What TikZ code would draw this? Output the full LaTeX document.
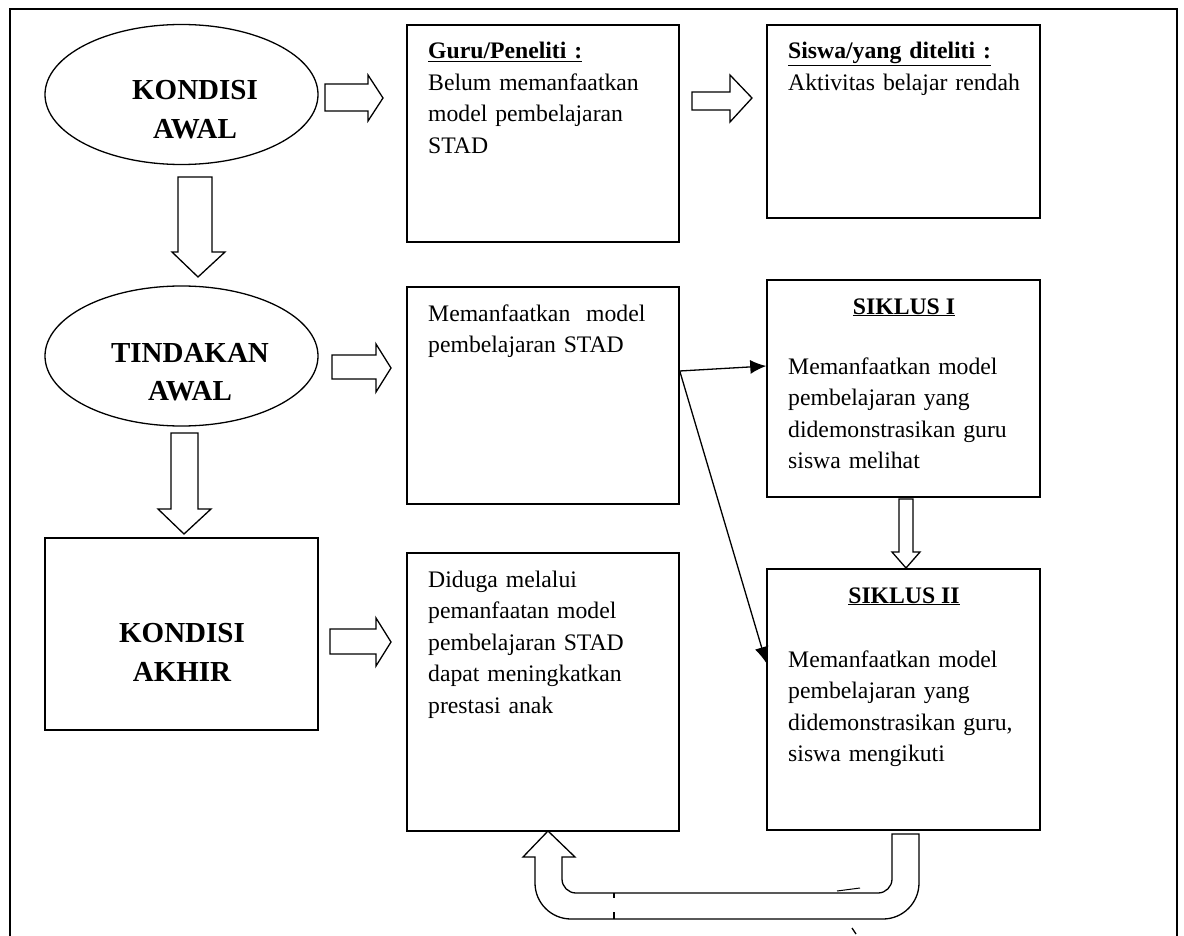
\documentclass[tikz,border=0pt]{standalone}
\usepackage{fontspec}
\setmainfont{Liberation Serif}
\usetikzlibrary{arrows.meta}
\usetikzlibrary{shapes.geometric}

\tikzset{
  box/.style={draw, line width=1.5pt, rectangle, inner sep=0pt},
  oval/.style={draw, line width=1.3pt, ellipse, inner sep=0pt, minimum width=273pt, minimum height=140pt},
  body/.style={anchor=base west, inner sep=0pt, text width=250pt, align=left, font=\fontsize{23.7}{31.5}\selectfont},
  title/.style={anchor=base, inner sep=0pt, font=\fontsize{23.7}{31.5}\selectfont\bfseries},
  heading/.style={anchor=base, inner sep=0pt, text width=220pt, align=center, font=\fontsize{29}{39}\selectfont\bfseries},
  hollow/.style={draw, line width=1.3pt, fill=white},
  pointer/.style={line width=1.3pt, -{Latex[length=16pt, width=14pt]}}
}

\begin{document}
\begin{tikzpicture}[x=1pt, y=-1pt]
    \useasboundingbox (0, 0) rectangle (1184, 936);

    % outer frame
    \draw [line width=1.5pt] (10, 960) -- (10, 9) -- (1177, 9) -- (1177, 960);

    % left column
    \node [oval] (kawal) at (181.5, 94.5) {};
    \node [heading] (kawallabel) at (195, 100) {KONDISI\\AWAL};
    \node [oval] (tawal) at (181.5, 356) {};
    \node [heading] (tawallabel) at (190, 362) {TINDAKAN\\AWAL};
    \node [box, minimum width=273pt, minimum height=192pt] (kakhir) at (181.5, 634) {};
    \node [heading] (kakhirlabel) at (182, 642) {KONDISI\\AKHIR};

    % middle column
    \node [box, minimum width=272pt, minimum height=217pt] (guru) at (543, 133.5) {};
    \node [body] (gurutext) at (428, 59) {\underline{\textbf{Guru/Peneliti :}}\\Belum memanfaatkan\\model pembelajaran\\STAD};
    \node [box, minimum width=272pt, minimum height=217pt] (manf) at (543, 395.5) {};
    \node [body] (manftext) at (428, 321) {Memanfaatkan\ \ model\\pembelajaran STAD};
    \node [box, minimum width=272pt, minimum height=278pt] (duga) at (543, 692) {};
    \node [body] (dugatext) at (428, 587) {Diduga melalui\\pemanfaatan model\\pembelajaran STAD\\dapat meningkatkan\\prestasi anak};

    % right column
    \node [box, minimum width=273pt, minimum height=193pt] (siswa) at (903.5, 121.5) {};
    \node [body] (siswatext) at (788, 59) {\underline{\textbf{Siswa/yang diteliti :}}\\Aktivitas belajar rendah};
    \node [box, minimum width=273pt, minimum height=217pt] (siklusone) at (903.5, 388.5) {};
    \node [title] (siklusonetitle) at (904, 314) {\underline{SIKLUS I}};
    \node [body] (siklusonetext) at (788, 374) {Memanfaatkan model\\pembelajaran yang\\didemonstrasikan guru\\siswa melihat};
    \node [box, minimum width=273pt, minimum height=261pt] (siklustwo) at (903.5, 699.5) {};
    \node [title] (siklustwotitle) at (904, 603) {\underline{SIKLUS II}};
    \node [body] (siklustwotext) at (788, 667) {Memanfaatkan model\\pembelajaran yang\\didemonstrasikan guru,\\siswa mengikuti};

    % hollow arrows
    \draw [hollow] (325, 84) -- (368, 84) -- (368, 75) -- (383, 98) -- (368, 121) -- (368, 111) -- (325, 111) -- cycle;
    \draw [hollow] (692, 92) -- (730, 92) -- (730, 75) -- (752, 98) -- (730, 122) -- (730, 110) -- (692, 110) -- cycle;
    \draw [hollow] (332, 355) -- (376, 355) -- (376, 344) -- (391, 368) -- (376, 392) -- (376, 379) -- (332, 379) -- cycle;
    \draw [hollow] (330, 629) -- (376, 629) -- (376, 618) -- (391, 642) -- (376, 666) -- (376, 654) -- (330, 654) -- cycle;
    \draw [hollow] (178, 177) -- (212, 177) -- (212, 252) -- (225, 252) -- (198, 277) -- (172, 252) -- (178, 252) -- cycle;
    \draw [hollow] (171, 433) -- (198, 433) -- (198, 509) -- (211, 509) -- (184, 534) -- (158, 509) -- (171, 509) -- cycle;
    \draw [hollow] (899, 499) -- (913, 499) -- (913, 552) -- (920, 552) -- (906, 568) -- (892, 552) -- (899, 552) -- cycle;

    % return arrow
    \draw [hollow] (548, 831) -- (575, 857) -- (562, 857)
      [rounded corners=14pt] -- (562, 893) -- (892, 893)
      [sharp corners] -- (892, 834) -- (919, 834)
      [rounded corners=36pt] -- (919, 919) -- (535, 919)
      [sharp corners] -- (535, 857) -- (523, 857) -- cycle;
    \draw [line width=1.3pt] (614, 893) -- (614, 898);
    \draw [line width=1.3pt] (614, 912) -- (614, 919);
    \draw [line width=1pt] (837, 891) -- (860, 888);
    \draw [line width=1.3pt] (852, 928) -- (856, 934);

    % thin arrows
    \draw [pointer] ([yshift=24.5pt]manf.east) -- ([yshift=22.5pt]siklusone.west);
    \draw [pointer] ([yshift=24.5pt]manf.east) -- ([yshift=36.5pt]siklustwo.west);
  \end{tikzpicture}
\end{document}
